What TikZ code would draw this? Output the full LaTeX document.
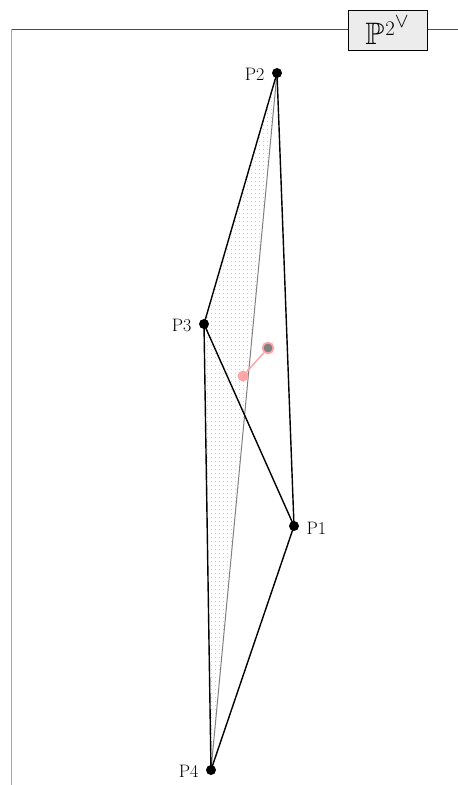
\documentclass[tikz,border=0pt]{standalone}
\usepackage{amssymb}
\usetikzlibrary{patterns.meta}
\begin{document}
\begin{tikzpicture}[x=1pt,y=-1pt,
  pt/.style={circle,fill=black,inner sep=0pt,minimum size=10pt},
  lbl/.style={font=\fontsize{18}{20}\selectfont},
  edge/.style={line width=1.4pt,black},
  pinkdot/.style={circle,fill=red!35,inner sep=0pt,minimum size=11pt},
  graydot/.style={circle,fill=gray,draw=red!35,line width=1.8pt,inner sep=0pt,minimum size=11pt}]
\useasboundingbox (0,0) rectangle (458,785);
\draw[gray!60!black,line width=0.7pt] (11,29) -- (458,29);
\draw[gray!70,line width=0.7pt] (11,29) -- (11,785);
\node[draw=black,fill=gray!15,line width=1pt,minimum width=79pt,minimum height=40pt,inner sep=0pt,font=\fontsize{31}{34}\selectfont] (box) at (387.5,30) {$\mathbb{P}^{\mkern1mu2^{\scriptstyle\vee}}$};
\coordinate (P1) at (294,526);
\coordinate (P2) at (277,73);
\coordinate (P3) at (204,324);
\coordinate (P4) at (211,770);
\fill[pattern={Dots[distance=4pt,radius=0.6pt]},pattern color=gray!45] (P2) -- (P3) -- (P4) -- cycle;
\draw[gray,line width=1pt] (P2) -- (P4);
\draw[edge] (P2) -- (P3);
\draw[edge] (P3) -- (P1);
\draw[edge] (P3) -- (P4);
\draw[edge] (P2) -- (P1);
\draw[edge] (P1) -- (P4);
\node[pt] (n1) at (P1) {};
\node[pt] (n2) at (P2) {};
\node[pt] (n3) at (P3) {};
\node[pt] (n4) at (P4) {};
\node[lbl,anchor=west] (l1) at (303,528) {P1};
\node[lbl,anchor=east] (l2) at (268,74) {P2};
\node[lbl,anchor=east] (l3) at (195,325) {P3};
\node[lbl,anchor=east] (l4) at (202,771) {P4};
\node[pinkdot] (a) at (243,376) {};
\node[graydot] (b) at (268,348) {};
\draw[red!35,line width=1.5pt] (a) -- (b);
\end{tikzpicture}
\end{document}
